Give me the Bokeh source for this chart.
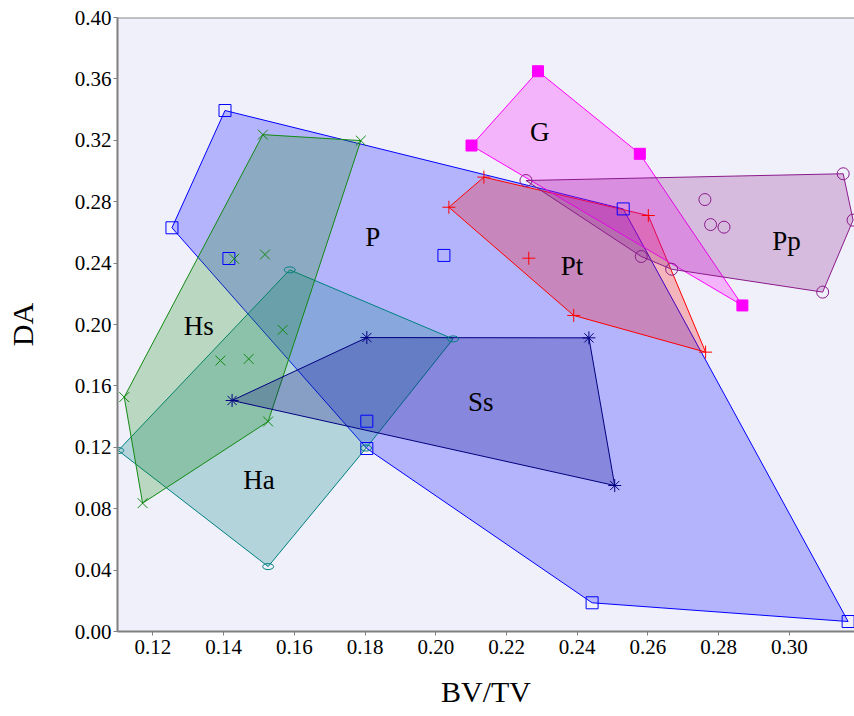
from bokeh.plotting import figure
from bokeh.models import Range1d, FixedTicker, Span
from bokeh.core.properties import value
from bokeh.embed import file_html
from bokeh.resources import INLINE

# ---- data (BV/TV, DA) per group ----
P_x = [0.1404, 0.1254, 0.1415, 0.1805, 0.1805, 0.2023, 0.2530, 0.2442, 0.3166]
P_y = [0.3394, 0.2630, 0.2430, 0.1192, 0.1370, 0.2450, 0.2753, 0.0187, 0.0065]

Hs_x = [0.1511, 0.1788, 0.1430, 0.1517, 0.1567, 0.1391, 0.1471, 0.1119, 0.1171, 0.1526]
Hs_y = [0.3237, 0.3198, 0.2428, 0.2456, 0.1965, 0.1765, 0.1776, 0.1527, 0.0836, 0.1368]

Ha_x = [0.1587, 0.2049, 0.1803, 0.1526, 0.1102]
Ha_y = [0.2356, 0.1906, 0.1195, 0.0423, 0.1179]

Ss_x = [0.1424, 0.1805, 0.2433, 0.2506]
Ss_y = [0.1505, 0.1915, 0.1913, 0.0951]

Pt_x = [0.2037, 0.2136, 0.2601, 0.2763, 0.2390, 0.2263]
Pt_y = [0.2764, 0.2960, 0.2710, 0.1820, 0.2059, 0.2432]

G_x = [0.2289, 0.2101, 0.2577, 0.2867]
G_y = [0.3650, 0.3166, 0.3112, 0.2124]

Pp_x = [0.2255, 0.3152, 0.3180, 0.3094, 0.2667, 0.2581, 0.2761, 0.2777, 0.2815]
Pp_y = [0.2938, 0.2982, 0.2680, 0.2211, 0.2360, 0.2443, 0.2814, 0.2651, 0.2634]

label_names = ["P", "G", "Pt", "Pp", "Hs", "Ss", "Ha"]
label_x = [0.1822, 0.2294, 0.2385, 0.2992, 0.1330, 0.2127, 0.1500]
label_y = [0.2567, 0.3257, 0.2378, 0.2547, 0.1987, 0.1492, 0.0990]

x_ticks = [0.12, 0.14, 0.16, 0.18, 0.20, 0.22, 0.24, 0.26, 0.28, 0.30]
y_ticks = [0.00, 0.04, 0.08, 0.12, 0.16, 0.20, 0.24, 0.28, 0.32, 0.36, 0.40]


def hull(xs, ys):
    pts = sorted(set(zip(xs, ys)))
    if len(pts) < 3:
        return [p[0] for p in pts], [p[1] for p in pts]

    def cross(o, a, b):
        return (a[0] - o[0]) * (b[1] - o[1]) - (a[1] - o[1]) * (b[0] - o[0])

    lower, upper = [], []
    for p in pts:
        while len(lower) >= 2 and cross(lower[-2], lower[-1], p) <= 0:
            lower.pop()
        lower.append(p)
    for p in reversed(pts):
        while len(upper) >= 2 and cross(upper[-2], upper[-1], p) <= 0:
            upper.pop()
        upper.append(p)
    h = lower[:-1] + upper[:-1]
    return [p[0] for p in h], [p[1] for p in h]


SERIF = "Liberation Serif"

p = figure(width=854, height=716, output_backend="svg", toolbar_location=None,
           x_range=Range1d(0.11, 0.3184), y_range=Range1d(0.0, 0.40),
           min_border_left=117, min_border_right=0, min_border_top=17, min_border_bottom=85)

p.background_fill_color = "#F0F0FB"
p.border_fill_color = "white"
p.outline_line_color = None
p.xgrid.grid_line_color = None
p.ygrid.grid_line_color = None

groups = [
    (P_x, P_y, "#0000FF", "square", 12),
    (Ha_x, Ha_y, "#008080", "ellipse", 0),
    (Hs_x, Hs_y, "#138A13", "x", 14),
    (Ss_x, Ss_y, "#000080", "asterisk", 13),
    (Pt_x, Pt_y, "#FF0000", "cross", 13),
    (G_x, G_y, "#FF00FF", "square_filled", 11),
    (Pp_x, Pp_y, "#8B1A8B", "circle", 12),
]

for xs, ys, col, mk, sz in groups:
    hx, hy = hull(xs, ys)
    p.patch(hx, hy, fill_color=col, fill_alpha=0.25, line_color=col, line_width=1)

for xs, ys, col, mk, sz in groups:
    if mk == "ellipse":
        p.ellipse(x=xs, y=ys, width=11, height=6, width_units="screen", height_units="screen",
                  fill_color=None, line_color=col, line_width=1)
    elif mk == "square_filled":
        p.scatter(xs, ys, marker="square", size=sz, fill_color=col, line_color=col)
    else:
        p.scatter(xs, ys, marker=mk, size=sz, fill_color=None, line_color=col, line_width=1)

p.text(x=label_x, y=label_y, text=label_names, text_font=value(SERIF), text_font_size="27px",
       text_align="center", text_baseline="middle", text_color="black")

p.add_layout(Span(location=0.40, dimension="width", line_color="#8C8C8C", line_width=2))

for ax in (p.xaxis[0], p.yaxis[0]):
    ax.axis_line_color = "#7F7F7F"
    ax.axis_line_width = 2
    ax.major_tick_line_color = "#7F7F7F"
    ax.major_tick_out = 4
    ax.major_tick_in = 0
    ax.minor_tick_line_color = None
    ax.major_label_text_font = SERIF
    ax.major_label_text_font_size = "21px"
    ax.major_label_text_color = "black"
    ax.axis_label_text_font = SERIF
    ax.axis_label_text_font_size = "30px"
    ax.axis_label_text_font_style = "normal"
    ax.axis_label_text_color = "black"

p.xaxis.ticker = FixedTicker(ticks=x_ticks)
p.yaxis.ticker = FixedTicker(ticks=y_ticks)
p.xaxis.major_label_overrides = {t: f"{t:.2f}" for t in x_ticks}
p.yaxis.major_label_overrides = {t: f"{t:.2f}" for t in y_ticks}
p.xaxis.axis_label = "BV/TV"
p.yaxis.axis_label = "DA"
p.xaxis.major_label_standoff = 4
p.yaxis.major_label_standoff = 2
p.xaxis.axis_label_standoff = 18
p.yaxis.axis_label_standoff = 33

open("out.html", "w").write(file_html(p, INLINE))
